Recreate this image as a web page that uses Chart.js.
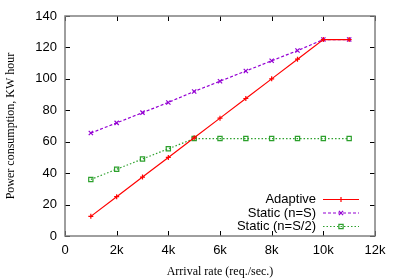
<!DOCTYPE html>
<html><head><meta charset="utf-8">
<script src="https://cdn.jsdelivr.net/npm/chart.js@4/dist/chart.umd.min.js"></script>
<style>html,body{margin:0;padding:0;background:#fff}#wrap{width:399px;height:279px}</style>
</head><body><div id="wrap"><canvas id="c" width="399" height="279"></canvas></div>
<script>
const arrivalRate = [1000,2000,3000,4000,5000,6000,7000,8000,9000,10000,11000];
const adaptive   = [12.5,25,37.5,50,62.5,75,87.5,100,112.5,125,125];
const staticS    = [65.5,72,78.5,85,92,98.5,105,111.5,118,125,125];
const staticS2   = [36,42.5,49,55.5,62,62,62,62,62,62,62];
const seriesLabels = ['Adaptive','Static (n=S)','Static (n=S/2)'];
const xTicks = [0,2000,4000,6000,8000,10000,12000];
const xTickLabels = ['0','2k','4k','6k','8k','10k','12k'];
const yTicks = [0,20,40,60,80,100,120,140];

const toXY = a => a.map((v,i)=>({x:arrivalRate[i], y:v}));
const SANS = "'Liberation Sans', Arial, sans-serif";
const SERIF = "'Liberation Serif', 'Times New Roman', serif";

const frame = {
  id:'frame',
  afterDatasetsDraw(chart){
    const {ctx, chartArea:a, scales:{x,y}} = chart;
    ctx.save();
    ctx.strokeStyle='#000'; ctx.lineWidth=1;
    ctx.beginPath();
    xTicks.forEach(v=>{const px=Math.round(x.getPixelForValue(v))+0.5;
      ctx.moveTo(px,a.bottom); ctx.lineTo(px,a.bottom-5);
      ctx.moveTo(px,a.top); ctx.lineTo(px,a.top+5);});
    yTicks.forEach(v=>{const py=Math.round(y.getPixelForValue(v))+0.5;
      ctx.moveTo(a.left,py); ctx.lineTo(a.left+5,py);
      ctx.moveTo(a.right,py); ctx.lineTo(a.right-5,py);});
    ctx.stroke();
    ctx.strokeStyle='#7f7f7f'; ctx.lineWidth=1.5;
    ctx.strokeRect(a.left, a.top, a.right-a.left, a.bottom-a.top);
    // legend
    const rows=[199.5,213,226.5];
    ctx.font = "13px "+SANS;
    ctx.textAlign='right'; ctx.textBaseline='middle';
    chart.data.datasets.forEach((d,i)=>{
      const yy=rows[i];
      ctx.fillStyle='#000';
      ctx.fillText(d.label, 316, yy);
      ctx.strokeStyle=d.borderColor; ctx.lineWidth=1.2;
      ctx.setLineDash(d.borderDash||[]);
      ctx.beginPath(); ctx.moveTo(323,yy); ctx.lineTo(359,yy); ctx.stroke();
      ctx.setLineDash([]);
      ctx.strokeStyle=d.pointBorderColor; ctx.fillStyle=d.pointBackgroundColor;
      ctx.lineWidth=d.pointBorderWidth;
      Chart.helpers.drawPoint(ctx,{pointStyle:d.pointStyle,radius:d.pointRadius,borderWidth:d.pointBorderWidth,rotation:0},341,yy);
    });
    ctx.restore();
  }
};

new Chart(document.getElementById('c'),{
  type:'line',
  data:{datasets:[
    {label:seriesLabels[0], data:toXY(adaptive), borderColor:'#ff0000', backgroundColor:'#ff0000', borderWidth:1.2, pointStyle:'cross', pointRadius:2.5, pointBorderWidth:1.2, pointBorderColor:'#ff0000', pointBackgroundColor:'#ff0000'},
    {label:seriesLabels[1], data:toXY(staticS), borderColor:'#9400d3', backgroundColor:'#9400d3', borderWidth:1.2, borderDash:[3,2], pointStyle:'crossRot', pointRadius:3, pointBorderWidth:1.2, pointBorderColor:'#9400d3', pointBackgroundColor:'#9400d3'},
    {label:seriesLabels[2], data:toXY(staticS2), borderColor:'#2ca02c', backgroundColor:'rgba(0,0,0,0)', borderWidth:1.2, borderDash:[1.5,2], pointStyle:'rect', pointRadius:3, pointBorderWidth:1.2, pointBorderColor:'#2ca02c', pointBackgroundColor:'rgba(0,0,0,0)'}
  ]},
  options:{
    responsive:false, animation:false, devicePixelRatio:1,
    layout:{padding:{left:0,right:24,top:16,bottom:0}},
    plugins:{legend:{display:false}, tooltip:{enabled:false}},
    scales:{
      x:{type:'linear', min:0, max:12000,
        afterBuildTicks(s){s.ticks=xTicks.map(v=>({value:v}));},
        afterFit(s){s.height=43;},
        grid:{display:false, drawTicks:false}, border:{display:false},
        ticks:{padding:7, color:'#000', font:{family:SANS,size:13}, maxRotation:0, autoSkip:false,
          callback:(v)=>xTickLabels[xTicks.indexOf(v)]},
        title:{display:true, text:'Arrival rate (req./sec.)', color:'#000', font:{family:SERIF,size:12}, padding:{top:4,bottom:0}}
      },
      y:{type:'linear', min:0, max:140,
        afterBuildTicks(s){s.ticks=yTicks.map(v=>({value:v}));},
        afterFit(s){s.width=65;},
        grid:{display:false, drawTicks:false}, border:{display:false},
        ticks:{padding:8, color:'#000', font:{family:SANS,size:13}},
        title:{display:true, text:'Power consumption, KW hour', color:'#000', font:{family:SERIF,size:12}, padding:{top:4,bottom:2}}
      }
    }
  },
  plugins:[frame]
});
</script></body></html>
